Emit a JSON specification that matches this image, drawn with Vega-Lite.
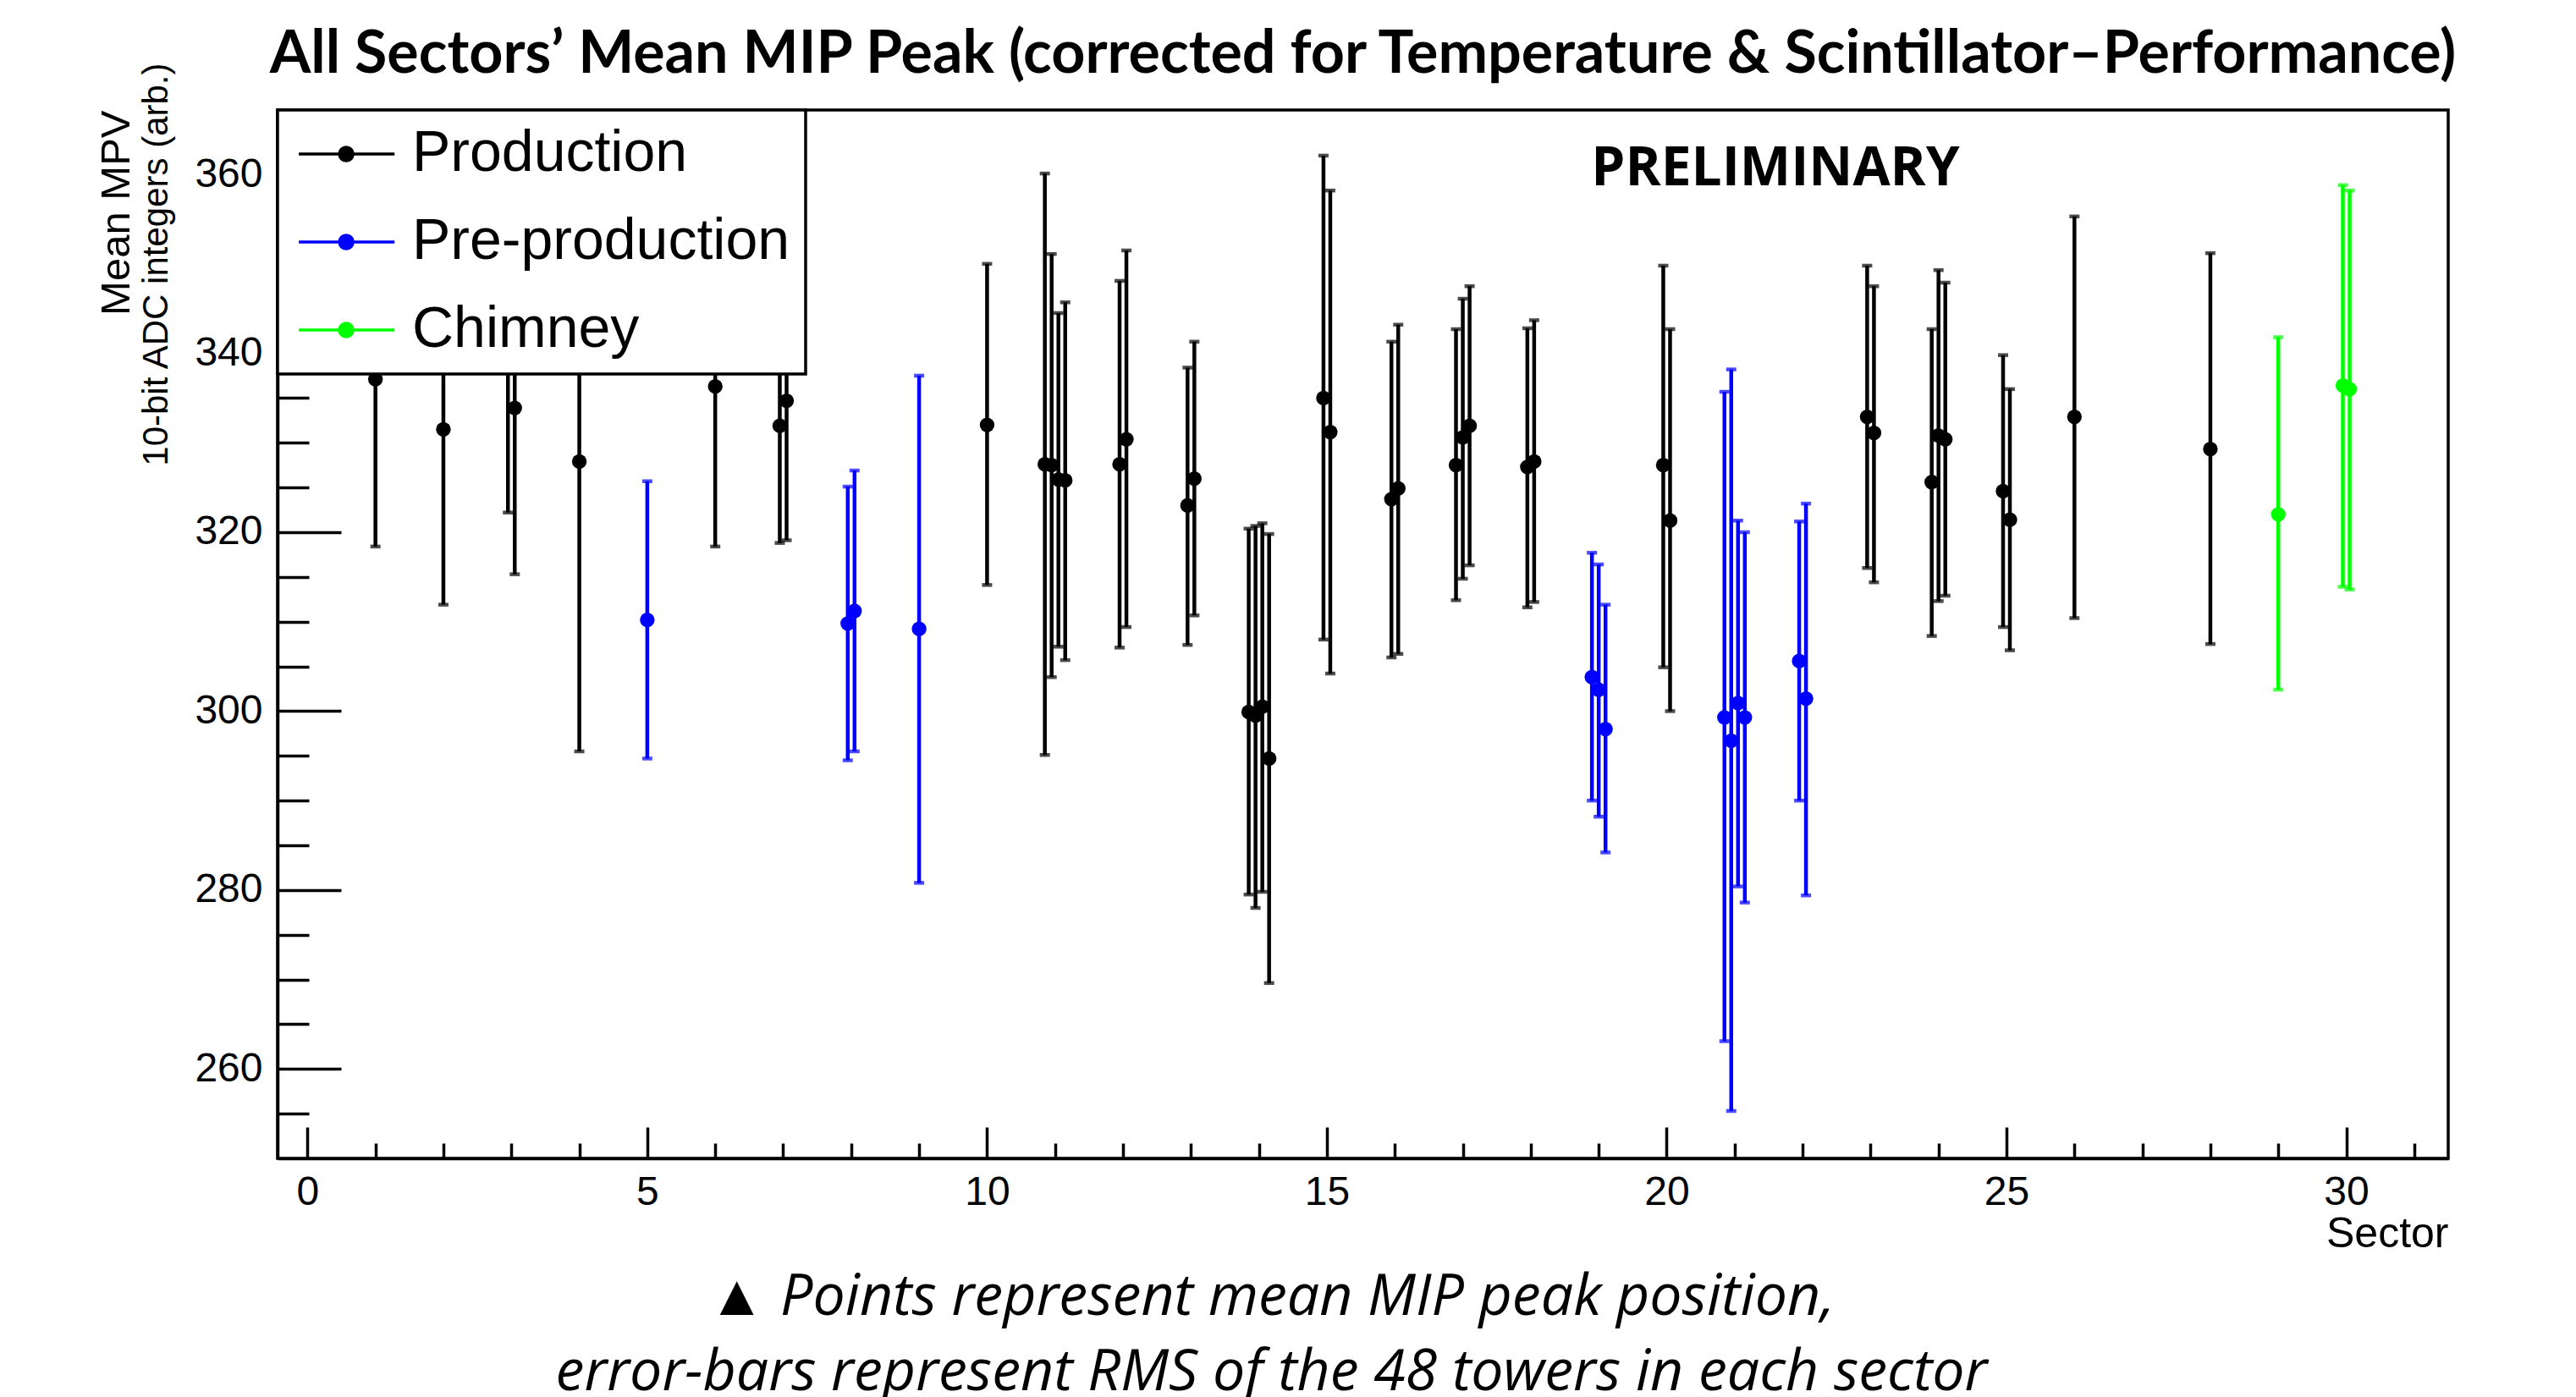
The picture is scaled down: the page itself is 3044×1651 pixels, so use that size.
{
  "$schema": "https://vega.github.io/schema/vega-lite/v6.json",
  "autosize": {"type": "none"},
  "width": 2565,
  "height": 1239,
  "padding": {"left": 328, "top": 130, "right": 151, "bottom": 282},
  "background": "white",
  "title": {
    "text": "All Sectors’ Mean MIP Peak (corrected for Temperature & Scintillator–Performance)",
    "font": "Lato",
    "fontWeight": "bold",
    "fontSize": 70,
    "color": "black",
    "anchor": "middle",
    "frame": "group",
    "baseline": "alphabetic",
    "offset": -82
  },
  "config": {
    "view": {"stroke": "black", "strokeWidth": 3.5},
    "axis": {
      "labelFont": "Liberation Sans",
      "labelColor": "black",
      "titleFont": "Liberation Sans",
      "titleColor": "black",
      "titleFontWeight": "normal",
      "domainColor": "black",
      "domainWidth": 3.5,
      "tickColor": "black",
      "tickWidth": 3.5,
      "grid": false
    },
    "legend": {
      "orient": "top-left",
      "offset": 0,
      "padding": 18,
      "fillColor": "white",
      "strokeColor": "black",
      "strokeWidth": 3.5,
      "cornerRadius": 0,
      "labelFont": "Liberation Sans",
      "labelFontSize": 68,
      "labelColor": "black",
      "labelLimit": 0,
      "labelOffset": 89,
      "rowPadding": 36,
      "symbolType": "M-0.96,0L3.08,0M0.754,0A0.286,0.286,0,1,1,1.326,0A0.286,0.286,0,1,1,0.754,0",
      "symbolSize": 3136,
      "symbolStrokeWidth": 3.5
    }
  },
  "datasets": {
    "mpv": [
      {"sector": 1.0, "mean": 337.1, "lo": 318.4, "hi": 355.8, "type": "Production"},
      {"sector": 2.0, "mean": 331.5, "lo": 311.9, "hi": 351.1, "type": "Production"},
      {"sector": 2.95, "mean": 341.0, "lo": 322.2, "hi": 359.8, "type": "Production"},
      {"sector": 3.05, "mean": 333.9, "lo": 315.3, "hi": 352.5, "type": "Production"},
      {"sector": 4.0, "mean": 327.9, "lo": 295.5, "hi": 360.3, "type": "Production"},
      {"sector": 5.0, "mean": 310.2, "lo": 294.7, "hi": 325.7, "type": "Pre-production"},
      {"sector": 6.0, "mean": 336.3, "lo": 318.4, "hi": 354.2, "type": "Production"},
      {"sector": 6.95, "mean": 331.9, "lo": 318.8, "hi": 345.0, "type": "Production"},
      {"sector": 7.05, "mean": 334.7, "lo": 319.1, "hi": 350.3, "type": "Production"},
      {"sector": 7.95, "mean": 309.8, "lo": 294.5, "hi": 325.1, "type": "Pre-production"},
      {"sector": 8.05, "mean": 311.2, "lo": 295.5, "hi": 326.9, "type": "Pre-production"},
      {"sector": 9.0, "mean": 309.2, "lo": 280.8, "hi": 337.5, "type": "Pre-production"},
      {"sector": 10.0, "mean": 332.0, "lo": 314.1, "hi": 350.0, "type": "Production"},
      {"sector": 10.85, "mean": 327.6, "lo": 295.1, "hi": 360.1, "type": "Production"},
      {"sector": 10.95, "mean": 327.5, "lo": 303.8, "hi": 351.1, "type": "Production"},
      {"sector": 11.05, "mean": 325.9, "lo": 307.2, "hi": 344.5, "type": "Production"},
      {"sector": 11.15, "mean": 325.8, "lo": 305.7, "hi": 345.7, "type": "Production"},
      {"sector": 11.95, "mean": 327.6, "lo": 307.1, "hi": 348.1, "type": "Production"},
      {"sector": 12.05, "mean": 330.4, "lo": 309.4, "hi": 351.5, "type": "Production"},
      {"sector": 12.95, "mean": 323.0, "lo": 307.4, "hi": 338.4, "type": "Production"},
      {"sector": 13.05, "mean": 326.0, "lo": 310.7, "hi": 341.3, "type": "Production"},
      {"sector": 13.85, "mean": 299.9, "lo": 279.5, "hi": 320.4, "type": "Production"},
      {"sector": 13.95, "mean": 299.5, "lo": 278.0, "hi": 320.7, "type": "Production"},
      {"sector": 14.05, "mean": 300.5, "lo": 279.8, "hi": 321.0, "type": "Production"},
      {"sector": 14.15, "mean": 294.7, "lo": 269.6, "hi": 319.8, "type": "Production"},
      {"sector": 14.95, "mean": 335.0, "lo": 308.0, "hi": 362.1, "type": "Production"},
      {"sector": 15.05, "mean": 331.2, "lo": 304.2, "hi": 358.2, "type": "Production"},
      {"sector": 15.95, "mean": 323.7, "lo": 306.0, "hi": 341.3, "type": "Production"},
      {"sector": 16.05, "mean": 324.9, "lo": 306.4, "hi": 343.2, "type": "Production"},
      {"sector": 16.9, "mean": 327.5, "lo": 312.4, "hi": 342.7, "type": "Production"},
      {"sector": 17.0, "mean": 330.6, "lo": 314.8, "hi": 346.1, "type": "Production"},
      {"sector": 17.1, "mean": 331.9, "lo": 316.3, "hi": 347.5, "type": "Production"},
      {"sector": 17.95, "mean": 327.3, "lo": 311.6, "hi": 342.8, "type": "Production"},
      {"sector": 18.05, "mean": 327.9, "lo": 312.2, "hi": 343.7, "type": "Production"},
      {"sector": 18.9, "mean": 303.8, "lo": 290.0, "hi": 317.7, "type": "Pre-production"},
      {"sector": 19.0, "mean": 302.4, "lo": 288.2, "hi": 316.4, "type": "Pre-production"},
      {"sector": 19.1, "mean": 298.0, "lo": 284.2, "hi": 311.9, "type": "Pre-production"},
      {"sector": 19.95, "mean": 327.5, "lo": 304.9, "hi": 349.8, "type": "Production"},
      {"sector": 20.05, "mean": 321.3, "lo": 300.0, "hi": 342.7, "type": "Production"},
      {"sector": 20.85, "mean": 299.3, "lo": 263.1, "hi": 335.7, "type": "Pre-production"},
      {"sector": 20.95, "mean": 296.7, "lo": 255.3, "hi": 338.2, "type": "Pre-production"},
      {"sector": 21.05, "mean": 300.9, "lo": 280.4, "hi": 321.3, "type": "Pre-production"},
      {"sector": 21.15, "mean": 299.3, "lo": 278.6, "hi": 320.0, "type": "Pre-production"},
      {"sector": 21.95, "mean": 305.6, "lo": 290.0, "hi": 321.2, "type": "Pre-production"},
      {"sector": 22.05, "mean": 301.4, "lo": 279.4, "hi": 323.2, "type": "Pre-production"},
      {"sector": 22.95, "mean": 332.9, "lo": 316.0, "hi": 349.8, "type": "Production"},
      {"sector": 23.05, "mean": 331.1, "lo": 314.4, "hi": 347.5, "type": "Production"},
      {"sector": 23.9, "mean": 325.6, "lo": 308.4, "hi": 342.7, "type": "Production"},
      {"sector": 24.0, "mean": 330.8, "lo": 312.3, "hi": 349.3, "type": "Production"},
      {"sector": 24.1, "mean": 330.4, "lo": 312.9, "hi": 347.9, "type": "Production"},
      {"sector": 24.95, "mean": 324.6, "lo": 309.4, "hi": 339.8, "type": "Production"},
      {"sector": 25.05, "mean": 321.4, "lo": 306.8, "hi": 336.0, "type": "Production"},
      {"sector": 26.0, "mean": 332.9, "lo": 310.4, "hi": 355.3, "type": "Production"},
      {"sector": 28.0, "mean": 329.3, "lo": 307.5, "hi": 351.2, "type": "Production"},
      {"sector": 29.0, "mean": 322.0, "lo": 302.4, "hi": 341.8, "type": "Chimney"},
      {"sector": 29.95, "mean": 336.4, "lo": 313.9, "hi": 358.8, "type": "Chimney"},
      {"sector": 30.05, "mean": 336.0, "lo": 313.6, "hi": 358.2, "type": "Chimney"}
    ],
    "notes": [
      {"sector": 21.6, "mean": 358.8, "text": "PRELIMINARY"}
    ]
  },
  "layer": [
    {
      "data": {"name": "mpv"},
      "mark": {"type": "errorbar", "thickness": 4.5, "ticks": {"size": 12, "thickness": 4.5}},
      "encoding": {
        "x": {
          "field": "sector", "type": "quantitative",
          "scale": {"domain": [-0.44, 31.5], "nice": false, "zero": false},
          "axis": {
            "orient": "bottom",
            "title": "Sector",
            "titleFontSize": 50,
            "titleAnchor": "end",
            "titlePadding": 0,
            "values": [0,1,2,3,4,5,6,7,8,9,10,11,12,13,14,15,16,17,18,19,20,21,22,23,24,25,26,27,28,29,30,31],
            "labelExpr": "datum.value % 5 === 0 ? datum.label : ''",
            "labelFontSize": 48,
            "labelPadding": 53,
            "tickSize": {"condition": {"test": "datum.value % 5 === 0", "value": -37}, "value": -18}
          }
        },
        "y": {
          "field": "lo", "type": "quantitative",
          "scale": {"domain": [250, 367.2], "nice": false, "zero": false},
          "axis": {
            "orient": "left",
            "title": "10-bit ADC integers (arb.)",
            "titleFontSize": 42,
            "titleAnchor": "end",
            "titleBaseline": "alphabetic",
            "titleX": -131,
            "titleY": -56,
            "values": [255,260,265,270,275,280,285,290,295,300,305,310,315,320,325,330,335,340,345,350,355,360,365],
            "labelExpr": "datum.value % 20 === 0 ? datum.label : ''",
            "labelFontSize": 48,
            "labelPadding": 93,
            "tickSize": {"condition": {"test": "datum.value % 20 === 0", "value": -75}, "value": -37}
          }
        },
        "y2": {"field": "hi"},
        "color": {
          "field": "type", "type": "nominal",
          "scale": {"domain": ["Production", "Pre-production", "Chimney"], "range": ["#000000", "#0000ff", "#00ff00"]},
          "legend": {
            "title": null,
            "encode": {
              "symbols": {
                "update": {
                  "stroke": {"scale": "color", "field": "value"},
                  "fill": {"scale": "color", "field": "value"},
                  "strokeWidth": {"value": 3.5},
                  "opacity": {"value": 1}
                }
              },
              "labels": {
                "update": {
                  "dx": {"value": -16}
                }
              }
            }
          }
        }
      }
    },
    {
      "data": {"name": "mpv"},
      "mark": {"type": "point", "filled": true, "size": 300, "opacity": 1},
      "encoding": {
        "x": {"field": "sector", "type": "quantitative", "axis": null},
        "y": {"field": "mean", "type": "quantitative", "axis": null},
        "color": {"field": "type", "type": "nominal"}
      }
    },
    {
      "data": {"name": "notes"},
      "mark": {"type": "text", "font": "Open Sans", "fontWeight": "bold", "fontSize": 64, "color": "black", "align": "center", "baseline": "alphabetic"},
      "encoding": {
        "x": {
          "field": "sector", "type": "quantitative",
          "axis": {
            "orient": "bottom",
            "title": ["▲ Points represent mean MIP peak position,", "error-bars represent RMS of the 48 towers in each sector"],
            "titleFont": "Open Sans",
            "titleFontStyle": "italic",
            "titleFontSize": 68,
            "titleLineHeight": 89,
            "titleBaseline": "alphabetic",
            "titleX": 1174,
            "titleY": 184,
            "labels": false, "ticks": false, "domain": false
          }
        },
        "y": {
          "field": "mean", "type": "quantitative",
          "axis": {
            "orient": "left",
            "title": "Mean MPV",
            "titleFontSize": 49,
            "titleAnchor": "end",
            "titleBaseline": "alphabetic",
            "titleX": -176,
            "titleY": 0,
            "labels": false, "ticks": false, "domain": false
          }
        },
        "text": {"field": "text"}
      }
    }
  ],
  "resolve": {"axis": {"x": "independent", "y": "independent"}}
}
